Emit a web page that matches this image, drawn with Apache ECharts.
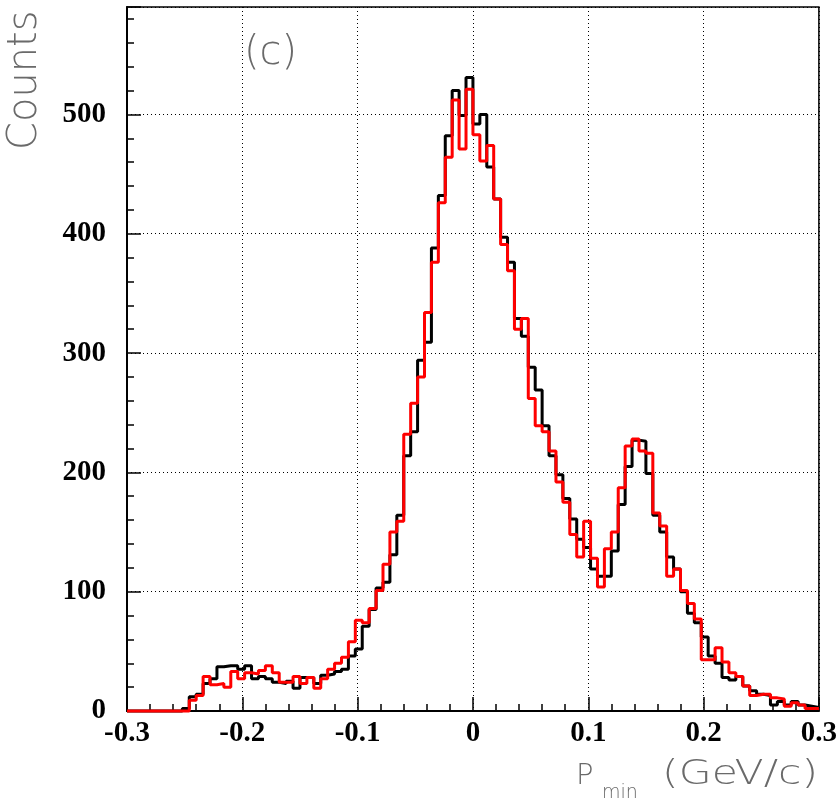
<!DOCTYPE html>
<html><head><meta charset="utf-8">
<script src="https://cdn.jsdelivr.net/npm/echarts@6/dist/echarts.min.js"></script>
<style>html,body{margin:0;padding:0;background:#fff}#c{width:840px;height:806px}</style>
</head><body><div id="c"></div>
<script>
// ---- data ----
const xMin = -0.3, xMax = 0.3, nBins = 100;
const yMax = 590;
const xTickLabels = ['-0.3','-0.2','-0.1','0','0.1','0.2','0.3'];
const yTickLabels = ['0','100','200','300','400','500'];
// black histogram (bins of width 0.006 from -0.3)
const countsBlack = [
  0,0,0,0,0,0,0,0,2,12,
  14,23,27,37,38,38,35,38,27,29,
  27,24,23,25,19,28,28,23,30,31,
  33,35,46,52,71,85,103,108,131,164,
  214,234,294,309,388,432,482,520,499,531,
  492,500,456,429,397,376,329,314,288,269,
  239,214,198,178,161,144,137,119,113,113,
  134,173,205,227,226,199,164,150,129,119,
  100,82,74,62,46,40,28,26,29,21,
  17,14,13,5,8,5,8,5,4,3
];
// red histogram
const countsRed = [
  0,0,0,0,0,0,0,0,0,9,
  13,29,22,23,20,33,27,32,31,34,
  38,32,24,24,29,23,28,19,27,35,
  40,45,58,76,74,86,101,123,150,159,
  232,258,280,334,376,426,464,512,471,521,
  483,461,474,429,391,369,320,329,262,239,
  234,218,192,175,148,129,159,128,104,136,
  150,187,222,228,218,216,166,155,113,119,
  101,90,77,43,43,53,41,32,29,21,
  13,14,14,11,10,4,7,5,2,2
];

function stepData(counts) {
  const w = (xMax - xMin) / counts.length;
  const d = counts.map((c, i) => [xMin + i * w, c]);
  d.push([xMax, counts[counts.length - 1]]);
  return d;
}

const thinFont = { fontFamily: 'DejaVu Sans', fontWeight: 200, fill: '#6a6a6a' };
const chart = echarts.init(document.getElementById('c'), null, { renderer: 'canvas' });
chart.setOption({
  animation: false,
  backgroundColor: '#fff',
  grid: { left: 127, right: 19, top: 7, bottom: 95, show: true, borderColor: '#000', borderWidth: 1.5, backgroundColor: 'transparent' },
  xAxis: [{
    type: 'value', min: xMin, max: xMax, interval: 0.1, position: 'bottom',
    axisLine: { show: true, onZero: false, lineStyle: { color: '#000', width: 2 } },
    axisTick: { show: true, inside: true, length: 14, lineStyle: { color: '#000', width: 1.5 } },
    minorTick: { show: true, splitNumber: 5, length: 7, lineStyle: { color: '#000', width: 1.5 } },
    splitLine: { show: true, lineStyle: { color: '#000', width: 1, type: [1, 3] } },
    axisLabel: {
      margin: 8, color: '#000', fontFamily: 'Liberation Serif', fontWeight: 'bold', fontSize: 29,
      formatter: v => { const k = Math.round((v - xMin) * 10); return xTickLabels[k] !== undefined && Math.abs(v - (xMin + k / 10)) < 1e-9 ? xTickLabels[k] : ''; }
    }
  }],
  yAxis: [{
    type: 'value', min: 0, max: yMax, interval: 100, position: 'left',
    axisLine: { show: true, onZero: false, lineStyle: { color: '#000', width: 2 } },
    axisTick: { show: true, inside: true, length: 14, lineStyle: { color: '#000', width: 1.5 } },
    minorTick: { show: true, splitNumber: 5, length: 7, lineStyle: { color: '#000', width: 1.5 } },
    splitLine: { show: true, lineStyle: { color: '#000', width: 1, type: [1, 3] } },
    axisLabel: {
      margin: 21, color: '#000', fontFamily: 'Liberation Serif', fontWeight: 'bold', fontSize: 29,
      formatter: v => (v % 100 === 0 && yTickLabels[v / 100] !== undefined) ? yTickLabels[v / 100] : ''
    }
  }],
  series: [
    { type: 'line', name: 'black', data: stepData(countsBlack), step: 'end', showSymbol: false, clip: false,
      lineStyle: { color: '#000', width: 3 }, z: 3 },
    { type: 'line', name: 'red', data: stepData(countsRed), step: 'end', showSymbol: false, clip: false,
      lineStyle: { color: '#ff0000', width: 3 }, z: 4 }
  ],
  graphic: [
    { type: 'text', x: 46, y: 150, rotation: Math.PI / 2,
      style: Object.assign({ text: 'Counts', fontSize: 40, align: 'left', verticalAlign: 'bottom' }, thinFont) },
    { type: 'text', x: 244, y: 34,
      style: Object.assign({ text: '(c)', fontSize: 40, align: 'left', verticalAlign: 'top' }, thinFont) },
    { type: 'text', x: 576, y: 762,
      style: Object.assign({ text: 'P', fontSize: 29, align: 'left', verticalAlign: 'top' }, thinFont) },
    { type: 'text', x: 602, y: 784,
      style: Object.assign({ text: 'min', fontSize: 19, align: 'left', verticalAlign: 'top' }, thinFont) },
    { type: 'text', x: 818, y: 759, scaleX: 1.29,
      style: Object.assign({ text: '(GeV/c)', fontSize: 33, align: 'right', verticalAlign: 'top' }, thinFont) }
  ]
});
</script>
</body></html>
